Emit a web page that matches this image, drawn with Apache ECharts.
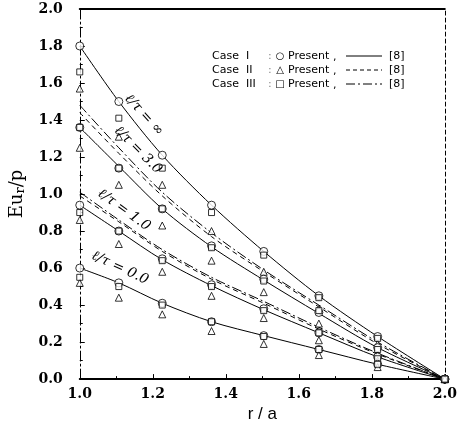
<!DOCTYPE html>
<html>
<head>
<meta charset="utf-8">
<title>Eur/p vs r/a</title>
<script src="https://cdn.jsdelivr.net/npm/echarts@6/dist/echarts.min.js"></script>
<style>
html, body { margin: 0; padding: 0; background: #fff; }
#chart { width: 460px; height: 428px; }
</style>
</head>
<body>
<div id="chart"></div>
<script>
// radial positions r/a
var rA = [1.0, 1.107, 1.226, 1.361, 1.504, 1.655, 1.816, 2.0];

// reference [8] curves
var lineInf   = [1.80, 1.50, 1.21, 0.94, 0.69, 0.45, 0.23, 0];
var line3I    = [1.36, 1.15, 0.92, 0.715, 0.535, 0.355, 0.17, 0];
var line3II   = [1.44, 1.22, 0.99, 0.77, 0.58, 0.39, 0.19, 0];
var line3III  = [1.48, 1.25, 1.01, 0.79, 0.59, 0.40, 0.20, 0];
var line1I    = [0.94, 0.80, 0.645, 0.505, 0.375, 0.25, 0.12, 0];
var line1II   = [0.99, 0.85, 0.69, 0.54, 0.41, 0.27, 0.135, 0];
var line1III  = [1.01, 0.86, 0.70, 0.55, 0.42, 0.28, 0.14, 0];
var line0     = [0.60, 0.52, 0.41, 0.31, 0.235, 0.16, 0.08, 0];

// present results: circles (Case I), triangles (Case II), squares (Case III)
var circInf = [1.80, 1.50, 1.21, 0.94, 0.69, 0.45, 0.23, 0];
var triInf  = [1.57, 1.31, 1.05, 0.80, 0.58, 0.38, 0.19, 0];
var sqInf   = [1.66, 1.41, 1.14, 0.90, 0.67, 0.44, 0.22, 0];
var circ3   = [1.36, 1.14, 0.92, 0.72, 0.54, 0.36, 0.17, 0];
var tri3    = [1.25, 1.05, 0.83, 0.64, 0.47, 0.30, 0.13, 0];
var sq3     = [1.36, 1.14, 0.92, 0.71, 0.53, 0.37, 0.16, 0];
var circ1   = [0.94, 0.80, 0.65, 0.51, 0.38, 0.25, 0.12, 0];
var tri1    = [0.86, 0.73, 0.58, 0.45, 0.33, 0.21, 0.10, 0];
var sq1     = [0.90, 0.80, 0.64, 0.50, 0.37, 0.25, 0.11, 0];
var circ0   = [0.60, 0.52, 0.41, 0.31, 0.235, 0.16, 0.08, 0];
var tri0    = [0.52, 0.44, 0.35, 0.26, 0.19, 0.13, 0.065, 0];
var sq0     = [0.55, 0.50, 0.40, 0.31, 0.23, 0.16, 0.08, 0];

var yTicks = ['0.0', '0.2', '0.4', '0.6', '0.8', '1.0', '1.2', '1.4', '1.6', '1.8', '2.0'];

function pts(arr) { return rA.map(function (x, i) { return [x, arr[i]]; }); }

var SOLID = 'solid', DASH = [5, 4], DASHDOT = [10, 3, 2, 3];

function curve(name, arr, type) {
    return {
        name: name, type: 'line', data: pts(arr), smooth: 0.3,
        symbol: 'none', silent: true,
        lineStyle: { color: '#000', width: 1, type: type }
    };
}
function marks(name, arr, symbol, size) {
    return {
        name: name, type: 'scatter', data: pts(arr), symbol: symbol, symbolSize: size,
        itemStyle: { color: '#fff', borderColor: '#000', borderWidth: 1 }, z: 5
    };
}

var tickFont = { color: '#000', fontFamily: 'DejaVu Serif', fontWeight: 'bold', fontSize: 14 };
var labelFont = '14px "DejaVu Serif"';

function curveLabel(text, x, y, deg) {
    return {
        type: 'text', x: x, y: y, rotation: deg * Math.PI / 180, z: 10,
        style: { text: text, font: 'italic ' + labelFont, fill: '#000', align: 'center', verticalAlign: 'middle' }
    };
}

var legendRows = [
    { label: 'Case  I', sym: '○', dash: null, y: 56 },
    { label: 'Case  II', sym: '△', dash: [4, 3], y: 70 },
    { label: 'Case  III', sym: '□', dash: [9, 3, 2, 3], y: 84 }
];
var legendGraphic = [];
legendRows.forEach(function (r) {
    var f = '11px "DejaVu Sans"';
    legendGraphic.push({ type: 'text', x: 212, y: r.y, style: { text: r.label, font: f, fill: '#000', verticalAlign: 'middle' } });
    legendGraphic.push({ type: 'text', x: 268, y: r.y, style: { text: ':', font: f, fill: '#888', verticalAlign: 'middle' } });
    legendGraphic.push({ type: 'text', x: 280, y: r.y, style: { text: r.sym, font: '10px "DejaVu Sans"', fill: '#000', align: 'center', verticalAlign: 'middle' } });
    legendGraphic.push({ type: 'text', x: 288, y: r.y, style: { text: 'Present', font: f, fill: '#000', verticalAlign: 'middle' } });
    legendGraphic.push({ type: 'text', x: 333, y: r.y + 1, style: { text: ',', font: f, fill: '#000', verticalAlign: 'middle' } });
    legendGraphic.push({ type: 'line', shape: { x1: 346, y1: r.y, x2: 382, y2: r.y }, style: { stroke: '#000', lineWidth: 1, lineDash: r.dash } });
    legendGraphic.push({ type: 'text', x: 389, y: r.y, style: { text: '[8]', font: f, fill: '#000', verticalAlign: 'middle' } });
});

var chart = echarts.init(document.getElementById('chart'), null, { renderer: 'canvas' });
chart.setOption({
    backgroundColor: '#fff',
    animation: false,
    grid: { left: 67, right: 8, top: 9, bottom: 46 },
    xAxis: [{
        type: 'value', min: 1.0, max: 2.0, interval: 0.2,
        name: 'r / a', nameLocation: 'middle', nameGap: 24,
        nameTextStyle: { fontFamily: 'Liberation Sans', fontSize: 17, color: '#000', verticalAlign: 'top' },
        axisLine: { show: true, lineStyle: { color: '#000', width: 2 } },
        axisTick: { show: true, inside: true, length: 5, lineStyle: { color: '#000' } },
        minorTick: { show: true, splitNumber: 2, length: 3, lineStyle: { color: '#000' } },
        axisLabel: Object.assign({ margin: 8, formatter: function (v) { return v.toFixed(1); } }, tickFont),
        splitLine: { show: false }
    }, {
        type: 'value', position: 'top', min: 1.0, max: 2.0,
        axisLine: { show: true, onZero: false, lineStyle: { color: '#000', width: 2 } },
        axisTick: { show: false }, axisLabel: { show: false }, splitLine: { show: false }
    }],
    yAxis: [{
        type: 'value', min: 0, max: 2.0, interval: 0.2,
        name: '{a|Eu}{b|r}{a|/p}', nameLocation: 'middle', nameGap: 46, nameRotate: 90,
        nameTextStyle: {
            rich: {
                a: { fontFamily: 'DejaVu Serif', fontSize: 18, color: '#000' },
                b: { fontFamily: 'DejaVu Serif', fontSize: 13, color: '#000', padding: [8, 0, 0, 0] }
            }
        },
        axisLine: { show: true, lineStyle: { color: '#000', width: 1, type: DASHDOT } },
        axisTick: { show: true, inside: true, length: 5, lineStyle: { color: '#000' } },
        minorTick: { show: true, splitNumber: 2, length: 3, lineStyle: { color: '#000' } },
        axisLabel: Object.assign({ margin: 17, formatter: function (v) { return yTicks[Math.round(v * 5)]; } }, tickFont),
        splitLine: { show: false }
    }, {
        type: 'value', position: 'right', min: 0, max: 2.0,
        axisLine: { show: true, onZero: false, lineStyle: { color: '#000', width: 1, type: [4, 3] } },
        axisTick: { show: false }, axisLabel: { show: false }, splitLine: { show: false }
    }],
    graphic: [
        curveLabel('ℓ/τ = ∞', 144, 115, -48),
        curveLabel('ℓ/τ = 3.0', 138, 150, -45),
        curveLabel('ℓ/τ = 1.0', 124, 210, -36),
        curveLabel('ℓ/τ = 0.0', 120, 268, -25)
    ].concat(legendGraphic),
    series: [
        curve('inf [8]', lineInf, SOLID),
        curve('3.0 I [8]', line3I, SOLID),
        curve('3.0 II [8]', line3II, DASH),
        curve('3.0 III [8]', line3III, DASHDOT),
        curve('1.0 I [8]', line1I, SOLID),
        curve('1.0 II [8]', line1II, DASH),
        curve('1.0 III [8]', line1III, DASHDOT),
        curve('0.0 [8]', line0, SOLID),
        marks('inf I', circInf, 'circle', 8),
        marks('inf II', triInf, 'triangle', 7),
        marks('inf III', sqInf, 'rect', 6),
        marks('3.0 I', circ3, 'circle', 8),
        marks('3.0 II', tri3, 'triangle', 7),
        marks('3.0 III', sq3, 'rect', 6),
        marks('1.0 I', circ1, 'circle', 8),
        marks('1.0 II', tri1, 'triangle', 7),
        marks('1.0 III', sq1, 'rect', 6),
        marks('0.0 I', circ0, 'circle', 8),
        marks('0.0 II', tri0, 'triangle', 7),
        marks('0.0 III', sq0, 'rect', 6)
    ]
});
</script>
</body>
</html>
